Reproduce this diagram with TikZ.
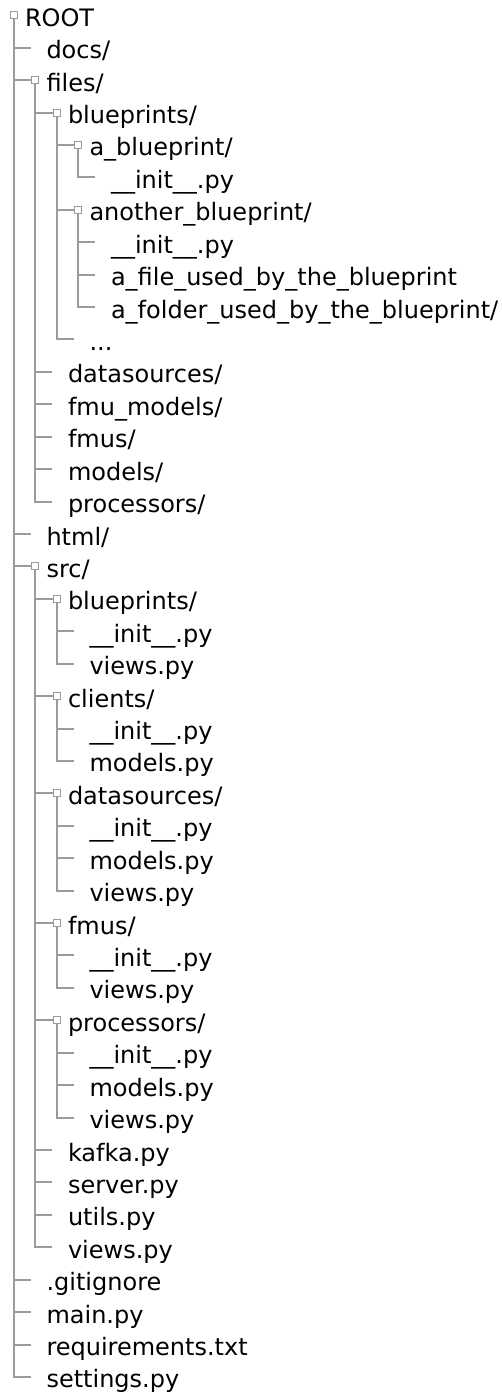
\documentclass[tikz,border=0pt]{standalone}
\usepackage{fontspec}
\setmainfont{DejaVu Sans}
\definecolor{treegray}{RGB}{155,155,155}
\pgfdeclarelayer{paper}
\pgfdeclarelayer{lines}
\pgfsetlayers{paper,lines,main}
\tikzset{
  entry/.style={anchor=base west, inner sep=0pt, outer sep=0pt, text=black,
                font=\fontsize{24}{28}\selectfont},
  dirmark/.style={draw=treegray, fill=white, line width=1.4pt, rectangle,
                  minimum size=6.5pt, inner sep=0pt, outer sep=0pt},
  treeline/.style={draw=treegray, line width=2.6pt},
}
% folder: marker square plus its name
\newcommand\tfolder[4]{%
  \node[dirmark] (#1) at ({round(13.5+21.5*#2)},{round(15.3+32.42*(#3-1))}) {};
  \node[entry] (#1-t) at ({25+21.5*#2},{15.3+32.42*(#3-1)+11}) {#4};
}
% file: end point of its branch plus its name
\newcommand\tfile[4]{%
  \coordinate (#1) at ({round(13.5+21.5*(#2-1))+17},{round(15.3+32.42*(#3-1))});
  \node[entry] (#1-t) at ({25+21.5*#2},{15.3+32.42*(#3-1)+11}) {#4};
}
\newcommand\tbranch[2]{\begin{pgfonlayer}{lines}\draw[treeline] (#1) |- (#2);\end{pgfonlayer}}
\begin{document}
\begin{tikzpicture}[x=1pt, y=-1pt]
\begin{pgfonlayer}{paper}
\fill[white] (0,0) rectangle (501,1393);
\end{pgfonlayer}
\useasboundingbox (0,0) rectangle (501,1393);

\tfolder{root}{0}{1}{ROOT}
\tfile{docs}{1}{2}{docs/}
\tfolder{files}{1}{3}{files/}
\tfolder{fbp}{2}{4}{blueprints/}
\tfolder{abp}{3}{5}{a\_blueprint/}
\tfile{abpinit}{4}{6}{\_\_init\_\_.py}
\tfolder{anbp}{3}{7}{another\_blueprint/}
\tfile{anbpinit}{4}{8}{\_\_init\_\_.py}
\tfile{anbpfile}{4}{9}{a\_file\_used\_by\_the\_blueprint}
\tfile{anbpdir}{4}{10}{a\_folder\_used\_by\_the\_blueprint/}
\tfile{fbpmore}{3}{11}{...}
\tfile{fds}{2}{12}{datasources/}
\tfile{ffmum}{2}{13}{fmu\_models/}
\tfile{ffmus}{2}{14}{fmus/}
\tfile{fmodels}{2}{15}{models/}
\tfile{fproc}{2}{16}{processors/}
\tfile{html}{1}{17}{html/}
\tfolder{src}{1}{18}{src/}
\tfolder{sbp}{2}{19}{blueprints/}
\tfile{sbpinit}{3}{20}{\_\_init\_\_.py}
\tfile{sbpviews}{3}{21}{views.py}
\tfolder{scl}{2}{22}{clients/}
\tfile{sclinit}{3}{23}{\_\_init\_\_.py}
\tfile{sclmodels}{3}{24}{models.py}
\tfolder{sds}{2}{25}{datasources/}
\tfile{sdsinit}{3}{26}{\_\_init\_\_.py}
\tfile{sdsmodels}{3}{27}{models.py}
\tfile{sdsviews}{3}{28}{views.py}
\tfolder{sfm}{2}{29}{fmus/}
\tfile{sfminit}{3}{30}{\_\_init\_\_.py}
\tfile{sfmviews}{3}{31}{views.py}
\tfolder{spr}{2}{32}{processors/}
\tfile{sprinit}{3}{33}{\_\_init\_\_.py}
\tfile{sprmodels}{3}{34}{models.py}
\tfile{sprviews}{3}{35}{views.py}
\tfile{skafka}{2}{36}{kafka.py}
\tfile{sserver}{2}{37}{server.py}
\tfile{sutils}{2}{38}{utils.py}
\tfile{sviews}{2}{39}{views.py}
\tfile{gitig}{1}{40}{.gitignore}
\tfile{mainpy}{1}{41}{main.py}
\tfile{req}{1}{42}{requirements.txt}
\tfile{settings}{1}{43}{settings.py}

% branches, parent to child
\foreach \c in {docs,files,html,src,gitig,mainpy,req,settings} {\tbranch{root}{\c}}
\foreach \c in {fbp,fds,ffmum,ffmus,fmodels,fproc} {\tbranch{files}{\c}}
\foreach \c in {abp,anbp,fbpmore} {\tbranch{fbp}{\c}}
\tbranch{abp}{abpinit}
\foreach \c in {anbpinit,anbpfile,anbpdir} {\tbranch{anbp}{\c}}
\foreach \c in {sbp,scl,sds,sfm,spr,skafka,sserver,sutils,sviews} {\tbranch{src}{\c}}
\foreach \c in {sbpinit,sbpviews} {\tbranch{sbp}{\c}}
\foreach \c in {sclinit,sclmodels} {\tbranch{scl}{\c}}
\foreach \c in {sdsinit,sdsmodels,sdsviews} {\tbranch{sds}{\c}}
\foreach \c in {sfminit,sfmviews} {\tbranch{sfm}{\c}}
\foreach \c in {sprinit,sprmodels,sprviews} {\tbranch{spr}{\c}}
\end{tikzpicture}
\end{document}
